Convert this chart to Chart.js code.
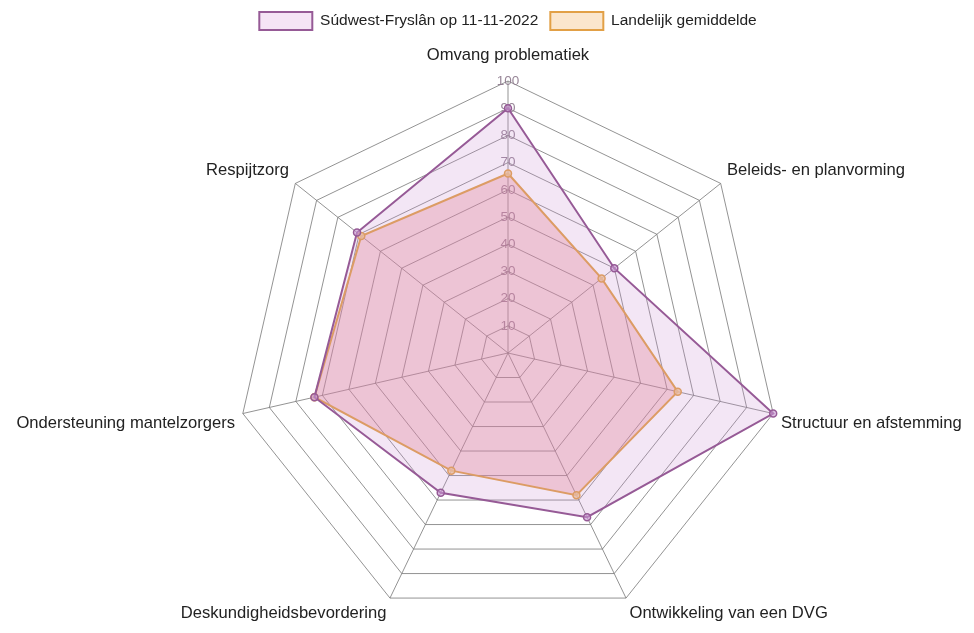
<!DOCTYPE html>
<html>
<head>
<meta charset="utf-8">
<script src="https://cdn.jsdelivr.net/npm/chart.js@4/dist/chart.umd.min.js"></script>
<style>
  html, body { margin: 0; padding: 0; background: #fff; }
  #wrap { width: 974px; height: 633px; }
</style>
</head>
<body>
<div id="wrap"><canvas id="radarCanvas" width="974" height="633"></canvas></div>
<script>
const categories = [
    'Omvang problematiek',
    'Beleids- en planvorming',
    'Structuur en afstemming',
    'Ontwikkeling van een DVG',
    'Deskundigheidsbevordering',
    'Ondersteuning mantelzorgers',
    'Respijtzorg'
];
const seriesNames = ['Súdwest-Fryslân op 11-11-2022', 'Landelijk gemiddelde'];
const sudwestValues = [90, 50, 100, 67, 57, 73, 71];
const landelijkValues = [66, 44, 64, 58, 48, 73, 69];
const tickValues = [0, 10, 20, 30, 40, 50, 60, 70, 80, 90, 100];

// legend swatch fills as they appear in the reference
const legendFills = ['rgba(245, 228, 245, 1)', 'rgba(251, 230, 205, 1)'];

const LABEL_FONT = '16.6px "Liberation Sans"';
const LABEL_PAD = 8;
const TOP_LABEL_EXTRA = 9;
const LEGEND_BLOCK = 74;

// chart.js would shrink the radar to fit its own point labels, so we draw
// them ourselves at the scale's point positions (same alignment rules)
const pointLabelPlugin = {
    id: 'pointLabelText',
    afterDraw(chart) {
        const scale = chart.scales.r;
        const ctx = chart.ctx;
        ctx.save();
        ctx.font = LABEL_FONT;
        ctx.fillStyle = '#222';
        categories.forEach((label, i) => {
            const deg = Math.round(scale.getIndexAngle(i) * 180 / Math.PI) % 360;
            const extra = deg === 0 ? TOP_LABEL_EXTRA : 0;
            const pos = scale.getPointPosition(i, scale.drawingArea + LABEL_PAD + extra);
            ctx.textAlign = (deg === 0 || deg === 180) ? 'center' : (deg < 180 ? 'left' : 'right');
            ctx.textBaseline = (deg === 90 || deg === 270) ? 'middle'
                : ((deg > 270 || deg < 90) ? 'bottom' : 'top');
            ctx.fillText(label, pos.x, pos.y);
        });
        ctx.restore();
    }
};

// give the legend block a fixed height so the radar starts lower
const legendSpacer = {
    id: 'legendSpacer',
    beforeInit(chart) {
        const origFit = chart.legend.fit;
        chart.legend.fit = function() {
            origFit.bind(chart.legend)();
            this.height = LEGEND_BLOCK;
        };
    }
};

document.addEventListener('DOMContentLoaded', function() {
    const canvas = document.getElementById('radarCanvas');

    new Chart(canvas, {
        type: 'radar',
        data: {
            labels: categories,
            datasets: [{
                label: seriesNames[0],
                data: sudwestValues,
                backgroundColor: 'rgba(200, 140, 210, 0.22)',
                borderColor: 'rgba(150, 90, 150, 1)',
                pointBackgroundColor: 'rgba(200, 150, 210, 0.6)',
                pointBorderColor: 'rgba(150, 90, 150, 1)',
                borderWidth: 2,
                pointRadius: 3.5,
                pointBorderWidth: 1.5
            }, {
                label: seriesNames[1],
                data: landelijkValues,
                backgroundColor: 'rgba(230, 120, 130, 0.33)',
                borderColor: 'rgba(226, 160, 70, 1)',
                pointBackgroundColor: 'rgba(240, 200, 150, 0.8)',
                pointBorderColor: 'rgba(226, 160, 70, 1)',
                borderWidth: 2,
                pointRadius: 3.5,
                pointBorderWidth: 1.5
            }]
        },
        options: {
            responsive: false,
            animation: false,
            layout: {
                padding: { top: 0, bottom: -8, left: 42, right: 0 }
            },
            plugins: {
                legend: {
                    position: 'top',
                    labels: {
                        boxWidth: 53,
                        boxHeight: 18,
                        color: '#222',
                        padding: 12,
                        font: { family: 'Liberation Sans', size: 15.5 },
                        generateLabels: function(chart) {
                            const items = Chart.defaults.plugins.legend.labels.generateLabels(chart);
                            items.forEach((it, i) => { it.fillStyle = legendFills[i]; });
                            return items;
                        }
                    }
                },
                tooltip: { enabled: false }
            },
            scales: {
                r: {
                    min: 0,
                    max: 100,
                    afterBuildTicks: function(scale) {
                        scale.ticks = tickValues.map(v => ({ value: v }));
                    },
                    ticks: {
                        stepSize: 10,
                        showLabelBackdrop: false,
                        backdropPadding: 0,
                        color: 'rgba(140, 120, 140, 0.9)',
                        font: { family: 'Liberation Sans', size: 13.5 }
                    },
                    grid: {
                        color: 'rgba(120, 120, 120, 0.8)',
                        lineWidth: 1
                    },
                    angleLines: {
                        color: 'rgba(120, 120, 120, 0.8)',
                        lineWidth: 1
                    },
                    pointLabels: {
                        display: false
                    }
                }
            }
        },
        plugins: [legendSpacer, pointLabelPlugin]
    });
});
</script>
</body>
</html>
